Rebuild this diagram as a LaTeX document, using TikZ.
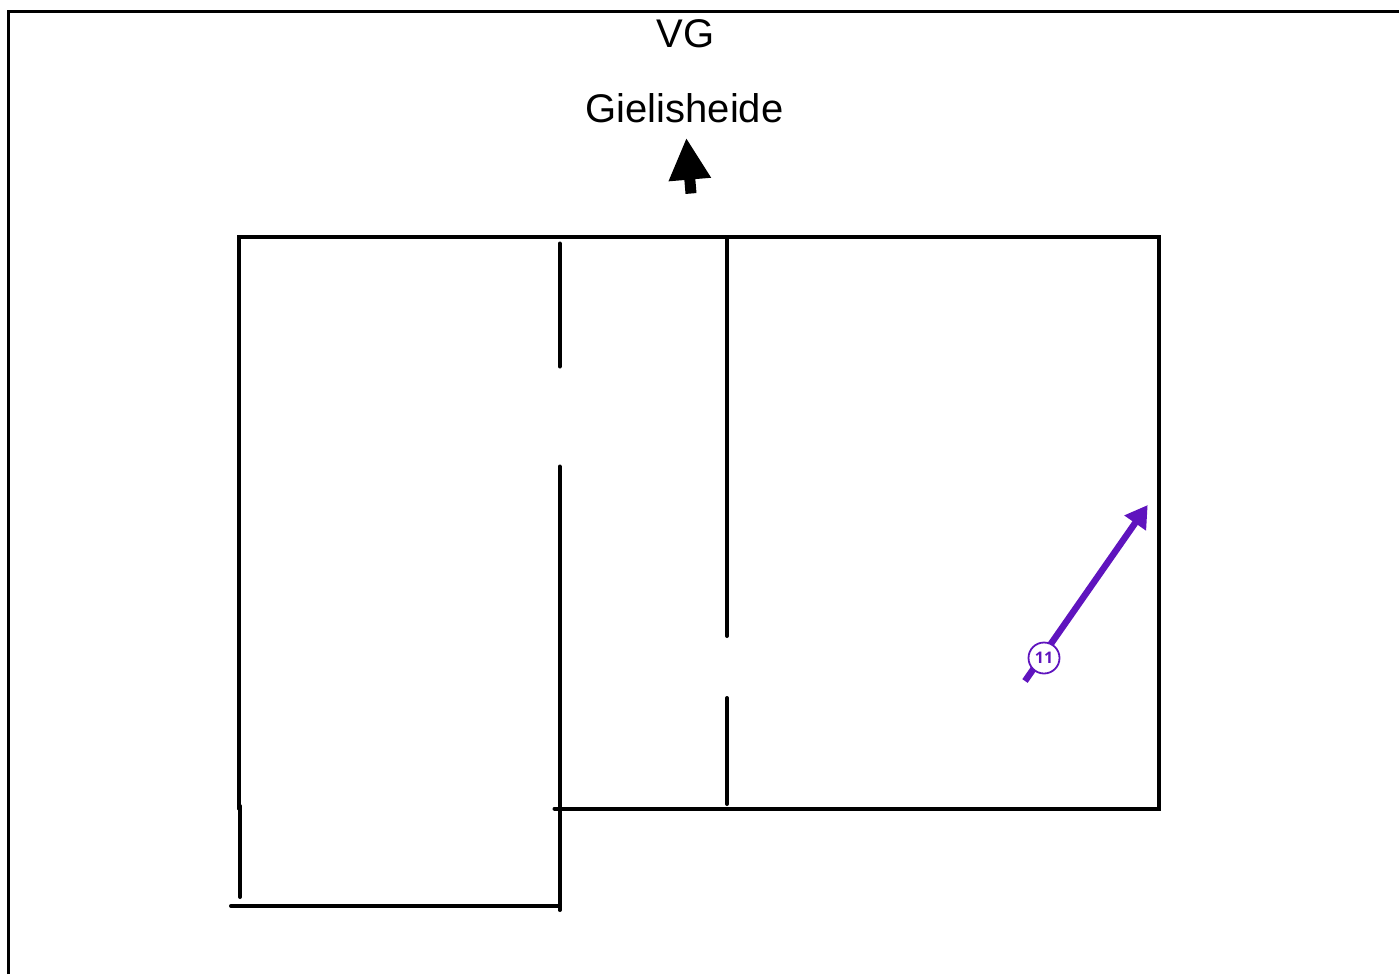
\documentclass[tikz,border=0pt]{standalone}
\usepackage{fontspec}
\setmainfont{Liberation Sans}
\newfontfamily\badgefont{Open Sans}
\usetikzlibrary{arrows.meta}
\definecolor{routecolor}{HTML}{5F14BE}
\begin{document}
\begin{tikzpicture}[x=1pt,y=-1pt,
  wall/.style={draw,line width=4pt,line cap=round},
  frame/.style={draw,line width=3.4pt},
  streetname/.style={inner sep=0pt,font=\fontsize{40}{40}\selectfont},
  northarrow/.style={-{Triangle[length=42pt,width=39.5pt]},line width=11pt,black},
  routearrow/.style={-{Triangle[length=22pt,width=25pt]},line width=6.5pt,routecolor},
  badge/.style={circle,draw=routecolor,line width=1.8pt,fill=white,text=routecolor,
    minimum size=31pt,inner sep=0pt,font=\badgefont\bfseries\fontsize{16}{16}\selectfont}
  ]
  \useasboundingbox (0,0) rectangle (1399,974);

  \draw[frame] (8.5,974) -- (8.5,11.5) -- (1399,11.5);

  \node[streetname] (vg) at (685.5,34) {VG};
  \node[streetname] (street) at (684.5,108) {Gielisheide};

  \coordinate (north_a) at (691,193.5);
  \coordinate (north_b) at (686.3,137.7);
  \draw[northarrow] (north_a) -- (north_b);

  % building
  \draw[wall] (238.5,808.5) -- (238.5,236.5) -- (1158.5,236.5) -- (1158.5,808.5) -- (554.5,808.5);
  \draw[wall] (240,806) -- (240,897);
  \draw[wall] (231,905.9) -- (559.5,905.9);
  \draw[wall] (559.7,243.5) -- (559.7,366.5);
  \draw[wall] (559.7,466.5) -- (559.7,910);
  \draw[wall] (727,237) -- (727,636);
  \draw[wall] (727,698) -- (727,804);

  \coordinate (route_a) at (1025,681);
  \coordinate (route_b) at (1147.7,505);
  \draw[routearrow] (route_a) -- (route_b);
  \node[badge] (n11) at (1044,658) {11};
\end{tikzpicture}
\end{document}
